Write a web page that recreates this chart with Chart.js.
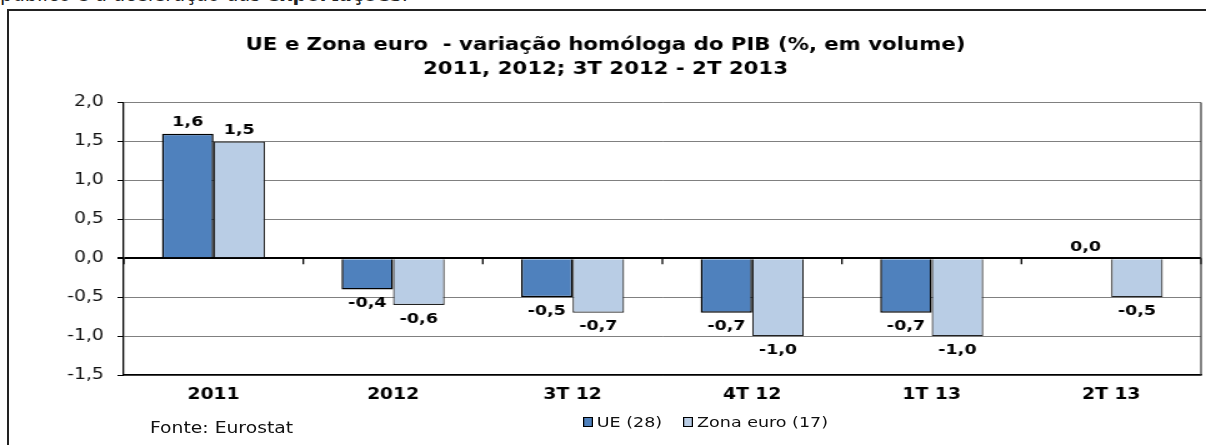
<!DOCTYPE html>
<html>
<head>
<meta charset="utf-8">
<script src="https://cdn.jsdelivr.net/npm/chart.js@4.4.0/dist/chart.umd.min.js"></script>
<style>
  body { margin: 0; background: #fff; font-family: "DejaVu Sans", Verdana, sans-serif; }
  #wrap { position: relative; width: 1206px; height: 445px; overflow: hidden; }
  #lead { position: absolute; left: 0; top: -18px; font-size: 19.5px; line-height: 26px; color: #222; white-space: nowrap; }
  #box { position: absolute; left: 7px; top: 9px; width: 1300px; height: 500px; border-left: 2px solid #222; border-top: 2px solid #222; }
  /* the reference is stretched horizontally; the canvas is drawn narrow and widened by css */
  #cv { position: absolute; left: 10px; top: 12px; }
  .wide { transform: scaleX(1.25); transform-origin: left center; }
  #fonte { position: absolute; left: 150px; top: 419px; font-size: 15px; color: #111; }
  #legend { position: absolute; left: 583px; top: 414px; font-size: 14px; color: #111; display: flex; gap: 17px; }
  #legend span.it { display: flex; align-items: center; }
  #legend i { display: inline-block; width: 6px; height: 8px; border: 1.5px solid #000; margin-right: 3px; }
</style>
</head>
<body>
<div id="wrap">
  <div id="lead">público e a aceleração das <b>exportações</b>.</div>
  <div id="box"></div>
  <canvas id="cv" width="957" height="433" style="width:1196px;height:433px"></canvas>
  <div id="fonte" class="wide">Fonte: Eurostat</div>
  <div id="legend" class="wide"></div>
</div>
<script>
const categories = ["2011", "2012", "3T 12", "4T 12", "1T 13", "2T 13"];
const ueValues = [1.6, -0.4, -0.5, -0.7, -0.7, 0.0];
const zonaValues = [1.5, -0.6, -0.7, -1.0, -1.0, -0.5];
const seriesNames = ["UE (28)", "Zona euro (17)"];
const seriesColors = ["#4F81BD", "#B9CDE5"];
const titleLines = ["UE e Zona euro  - variação homóloga do PIB (%, em volume)", "2011, 2012; 3T 2012 - 2T 2013"];

const fmt = v => v.toFixed(1).replace(".", ",");

// value labels, zero-axis ticks and right frame
const extras = {
  id: "extras",
  afterDatasetsDraw(chart) {
    const c = chart.ctx;
    const area = chart.chartArea;
    const x = chart.scales.x, y = chart.scales.y;
    const y0 = y.getPixelForValue(0);
    c.save();
    c.strokeStyle = "#000";
    c.lineWidth = 1.3;
    for (let i = 0; i <= categories.length; i++) {
      let px;
      if (i === 0) px = area.left;
      else if (i === categories.length) px = area.right;
      else px = (x.getPixelForValue(i - 1) + x.getPixelForValue(i)) / 2;
      c.beginPath();
      c.moveTo(px, y0);
      c.lineTo(px, y0 + 6);
      c.stroke();
    }
    c.strokeStyle = "#333";
    c.lineWidth = 1.2;
    c.beginPath();
    c.moveTo(area.right, area.top);
    c.lineTo(area.right, area.bottom);
    c.stroke();

    c.font = "bold 14px 'DejaVu Sans'";
    c.fillStyle = "#000";
    c.textAlign = "center";
    c.textBaseline = "middle";
    chart.data.datasets.forEach((ds, di) => {
      chart.getDatasetMeta(di).data.forEach((bar, i) => {
        const v = ds.data[i];
        const ly = v >= 0 ? bar.y - 11 : bar.y + 14;
        c.fillText(fmt(v), bar.x, ly);
      });
    });
    c.restore();
  }
};

new Chart(document.getElementById("cv"), {
  type: "bar",
  data: {
    labels: categories,
    datasets: [
      { label: seriesNames[0], data: ueValues, backgroundColor: seriesColors[0], borderColor: "#000", borderWidth: 1.5 },
      { label: seriesNames[1], data: zonaValues, backgroundColor: seriesColors[1], borderColor: "#222", borderWidth: 1.2 }
    ]
  },
  options: {
    responsive: false,
    animation: false,
    categoryPercentage: 0.574,
    barPercentage: 1.0,
    layout: { padding: { top: 22, right: 4, left: 0, bottom: 0 } },
    plugins: {
      legend: { display: false },
      tooltip: { enabled: false },
      title: {
        display: true,
        text: titleLines,
        color: "#000",
        font: { family: "DejaVu Sans", size: 17, weight: "bold", lineHeight: 1.4 },
        padding: { top: 0, bottom: 21 }
      }
    },
    scales: {
      x: {
        grid: { display: false },
        border: { display: true, color: "#000", width: 1.5 },
        ticks: { color: "#000", padding: 3, font: { family: "DejaVu Sans", size: 15, weight: "bold" } },
        afterFit(s) { s.height = 70; }
      },
      y: {
        min: -1.5,
        max: 2.0,
        ticks: {
          stepSize: 0.5,
          color: "#111",
          padding: 11,
          font: { family: "DejaVu Sans", size: 15 },
          callback: v => fmt(v)
        },
        grid: {
          color: c => c.tick && c.tick.value === 0 ? "#000" : "#808080",
          lineWidth: c => c.tick && c.tick.value === 0 ? 2 : 1,
          tickColor: "#000",
          tickLength: 5
        },
        border: { display: true, color: "#000", width: 1.3 },
        afterFit(s) { s.width = 91; }
      }
    }
  },
  plugins: [extras]
});

const lg = document.getElementById("legend");
seriesNames.forEach((n, i) => {
  const it = document.createElement("span");
  it.className = "it";
  const sw = document.createElement("i");
  sw.style.background = seriesColors[i];
  it.appendChild(sw);
  it.appendChild(document.createTextNode(n));
  lg.appendChild(it);
});
</script>
</body>
</html>
